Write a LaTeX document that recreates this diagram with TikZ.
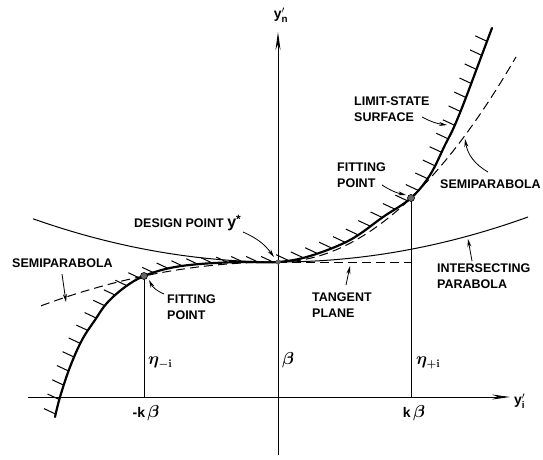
\documentclass[tikz,border=0pt]{standalone}
\usepackage{amsmath}
\usepackage{fontspec}
\setmainfont{Liberation Sans}
\usetikzlibrary{arrows.meta,decorations.markings}
\begin{document}
\begin{tikzpicture}[x=1pt,y=-1pt,
  lbl/.style={font=\bfseries\fontsize{12.5}{16}\selectfont, align=left, inner sep=0pt},
  mth/.style={font=\fontsize{14}{16}\selectfont, inner sep=0pt},
  etastyle/.style={font=\fontsize{16}{18}\selectfont\boldmath, inner sep=0pt},
  ptr/.style={line width=0.8pt, -{Stealth[length=8pt,width=4pt]}},
  axisline/.style={line width=0.9pt, -{Stealth[length=18pt,width=5pt]}},
  thinline/.style={line width=0.8pt},
  dsh/.style={line width=1pt, dash pattern=on 9pt off 5pt},
  fitpt/.style={circle, fill=black!60, draw=black, line width=0.6pt, inner sep=0pt, minimum size=7pt},
  surface/.style={line width=2.2pt, line cap=round},
  hatchpath/.style={postaction={decorate},
    decoration={markings, mark=between positions 3pt and 1 step 15pt with
      {\pgftransformresetnontranslations \draw[line width=1pt] (0,0) -- (155:13pt);}}}
]
\useasboundingbox (0,0) rectangle (543,459);
% key points
\coordinate (D) at (278,262);
\coordinate (FL) at (144,276);
\coordinate (FR) at (411,198);
\coordinate (xs) at (28,397);
\coordinate (xe) at (510,397);
\coordinate (ys) at (278,455);
\coordinate (ye) at (278,32);
\coordinate (kl) at (144,397);
\coordinate (kr) at (411,397);
\coordinate (TPend) at (411,262);
% axes
\draw[axisline] (xs) -- (xe);
\draw[axisline] (ys) -- (ye);
\draw[thinline] (kl) -- (FL);
\draw[thinline] (kr) -- (FR);
% intersecting parabola
\draw[thinline, line width=1pt] plot[domain=-245:250, samples=80] ({278+\x},{262-7.2*(\x/100)*(\x/100)});
% semiparabolas
\draw[dsh] plot[domain=-237:0, samples=60] ({278+\x},{262+7.8*(\x/100)*(\x/100)});
\draw[dsh] plot[domain=0:238, samples=80] ({278+\x},{262-36.2*(\x/100)*(\x/100)});
% tangent plane
\draw[dsh] (D) -- (TPend);
% limit-state surface
\draw[surface] plot[smooth, tension=0.6] coordinates {(55,417) (60,397) (70,367) (82,340) (95,320) (107,303) (125,287) (144,276) (170,268) (200,264) (240,262) (278,262) (310,256) (350,240) (383,217) (411,198) (430,175) (445,145) (454,127) (465,100) (480,60) (492,28)};
\path[hatchpath] (55,417) -- (60,397) -- (70,367) -- (82,340) -- (95,320) -- (107,303) -- (125,287) -- (144,276) -- (170,268) -- (200,264) -- (240,262) -- (278,262) -- (310,256) -- (350,240) -- (383,217) -- (411,198) -- (430,175) -- (445,145) -- (454,127) -- (465,100) -- (480,60) -- (492,28);
% points
\node[fitpt] (fl) at (FL) {};
\node[fitpt] (fr) at (FR) {};
\node[circle, fill=black!60, inner sep=0pt, minimum size=5pt] (dp) at (D) {};
% axis labels
\node[mth] (yn) at (281,15) {\textbf{y}$'_{\mathbf{n}}$};
\node[mth, anchor=west] (yi) at (514,401) {\textbf{y}$'_{\mathbf{i}}$};
\node[etastyle, anchor=west] (etam) at (148,363) {$\eta_{-\mathbf{i}}$};
\node[etastyle, anchor=west] (beta) at (282,360) {$\beta$};
\node[etastyle, anchor=west] (etap) at (416,363) {$\eta_{+\mathbf{i}}$};
\node[mth] (mkb) at (146,413) {\textbf{-k}\,{\fontsize{16}{16}\selectfont$\boldsymbol{\beta}$}};
\node[mth] (pkb) at (414,413) {\textbf{k}\,{\fontsize{16}{16}\selectfont$\boldsymbol{\beta}$}};
% text labels
\node[lbl, anchor=west] (lss) at (354,109) {LIMIT-STATE\\SURFACE};
\node[lbl, anchor=west] (spr) at (440,184) {SEMIPARABOLA};
\node[lbl, anchor=west] (fpr) at (337,175) {FITTING\\POINT};
\node[lbl, anchor=west] (dpl) at (134,223) {DESIGN POINT\ {\fontsize{16}{16}\selectfont y\raisebox{0.45ex}{\fontsize{12}{12}\selectfont *}}};
\node[lbl, anchor=west] (spl) at (12,263) {SEMIPARABOLA};
\node[lbl, anchor=west] (fpl) at (167,307) {FITTING\\POINT};
\node[lbl, anchor=west] (tpl) at (312,305) {TANGENT\\PLANE};
\node[lbl, anchor=west] (ipl) at (437,276) {INTERSECTING\\PARABOLA};
% pointer targets / tails
\coordinate (a1s) at (422,117); \coordinate (a1e) at (447,125);
\coordinate (a2s) at (488,172); \coordinate (a2e) at (465,139);
\coordinate (a3s) at (382,185); \coordinate (a3e) at (406,195);
\coordinate (a4s) at (243,232); \coordinate (a4e) at (274,257);
\coordinate (a5s) at (62,274); \coordinate (a5e) at (66,302);
\coordinate (a6s) at (164,294); \coordinate (a6e) at (149,280);
\coordinate (a7s) at (346,285); \coordinate (a7e) at (350,266);
\coordinate (a8s) at (472,261); \coordinate (a8e) at (468,239);
\draw[ptr] (a1s) to[bend right=10] (a1e);
\draw[ptr] (a2s) to[bend left=25] (a2e);
\draw[ptr] (a3s) to[bend right=10] (a3e);
\draw[ptr] (a4s) to[bend left=15] (a4e);
\draw[ptr] (a5s) -- (a5e);
\draw[ptr] (a6s) to[bend left=20] (a6e);
\draw[ptr] (a7s) -- (a7e);
\draw[ptr] (a8s) -- (a8e);
\end{tikzpicture}
\end{document}
